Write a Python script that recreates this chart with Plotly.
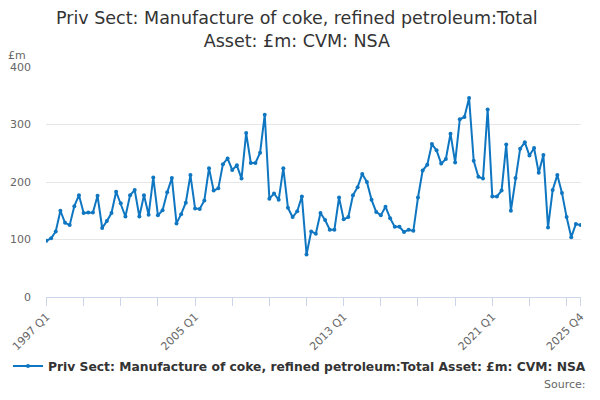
import plotly.graph_objects as go

# quarterly labels 1997 Q1 .. 2025 Q4
quarters = [f"{y} Q{q}" for y in range(1997, 2026) for q in range(1, 5)]

values = [
    98, 102, 114, 150, 129, 125, 158, 177, 146, 147, 147, 176,
    120, 132, 146, 183, 163, 140, 177, 186, 140, 177, 143, 208,
    142, 151, 182, 207, 128, 144, 164, 212, 154, 153, 168, 224,
    185, 189, 231, 241, 221, 229, 206, 285, 233, 233, 251, 317,
    171, 180, 169, 224, 155, 139, 149, 175, 74, 114, 110, 146,
    134, 117, 117, 173, 135, 139, 177, 191, 214, 200, 169, 148,
    142, 157, 137, 122, 122, 113, 117, 115, 173, 220, 230, 266,
    255, 232, 240, 284, 234, 309, 313, 346, 237, 209, 206, 326,
    175, 175, 185, 265, 150, 207, 258, 269, 246, 259, 216, 247,
    121, 186, 212, 181, 139, 104, 127, 125,
]

tick_vals = [quarters[i] for i in range(0, len(quarters), 8)] + [quarters[-1]]
tick_text = [q if q in ("1997 Q1", "2005 Q1", "2013 Q1", "2021 Q1", "2025 Q4") else "" for q in tick_vals]

series_name = "Priv Sect: Manufacture of coke, refined petroleum:Total Asset: £m: CVM: NSA"
title_text = "Priv Sect: Manufacture of coke, refined petroleum:Total<br>Asset: £m: CVM: NSA"
blue = "#0f76c1"

trace = go.Scatter(
    x=quarters, y=values, name=series_name, mode="lines+markers",
    line=dict(color=blue, width=2), marker=dict(color=blue, size=4),
)

# the page body has an 8px margin, so margins are set relative to the inner div
layout = go.Layout(
    font=dict(family="DejaVu Sans", size=11, color="#666666"),
    plot_bgcolor="white",
    paper_bgcolor="white",
    margin=dict(l=38, r=11, t=59, b=95),
    xaxis=dict(
        type="category",
        range=[-0.1, len(quarters) - 0.9],
        tickvals=tick_vals,
        ticktext=tick_text,
        tickangle=-45,
        ticks="outside",
        ticklen=8,
        tickcolor="#ccd6eb",
        showline=True,
        linecolor="#ccd6eb",
        showgrid=False,
        automargin=False,
        tickfont=dict(size=11, color="#666666"),
    ),
    yaxis=dict(
        range=[0, 400],
        tickvals=[0, 100, 200, 300, 400],
        showgrid=True,
        gridcolor="#e6e6e6",
        zeroline=False,
        ticks="",
        ticklabelstandoff=14,
        automargin=False,
        tickfont=dict(size=11, color="#666666"),
    ),
    showlegend=True,
    legend=dict(
        orientation="h", x=0.457, xanchor="center",
        yref="container", y=0.068, yanchor="middle",
        font=dict(family="DejaVu Sans", size=12.3, color="#333333", weight="bold"),
    ),
    annotations=[
        dict(text=title_text, xref="paper", yref="paper", x=0.47, y=1.265,
             xanchor="center", yanchor="top", showarrow=False,
             font=dict(family="DejaVu Sans", size=17.5, color="#333333")),
        dict(text="£m", xref="paper", yref="paper", x=-0.034, y=1.012,
             xanchor="right", yanchor="bottom", showarrow=False,
             font=dict(size=11, color="#666666")),
        dict(text="Source:", xref="paper", yref="paper", x=1.013, y=-0.342,
             xanchor="right", yanchor="top", showarrow=False,
             font=dict(size=11, color="#666666")),
    ],
)

fig = go.Figure(data=[trace], layout=layout)
fig.write_html("out.html")
